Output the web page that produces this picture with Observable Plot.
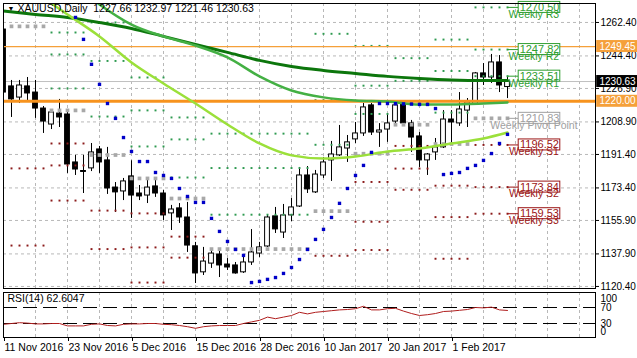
<!DOCTYPE html>
<html><head><meta charset="utf-8">
<script src="https://cdn.jsdelivr.net/npm/d3@7"></script>
<script src="https://cdn.jsdelivr.net/npm/@observablehq/plot@0.6"></script>
<style>
body{margin:0;background:#fff;}
#chart{width:637px;height:358px;font-family:"Liberation Sans",Arial,sans-serif;}
#chart svg{display:block;overflow:visible;background:#fff;}
</style></head><body><div id="chart"></div>
<script>
// ---------- data ----------
const symbolTitle = "XAUUSD,Daily\u00a0\u00a01227.66 1232.97 1221.46 1230.63";
const rsiTitle = "RSI(14) 62.6047";
const dateLabels = ["11 Nov 2016","23 Nov 2016","5 Dec 2016","15 Dec 2016","28 Dec 2016","10 Jan 2017","20 Jan 2017","1 Feb 2017"];
const dateBars = [0,8,16,24,32,40,48,56];
const priceTicks = [1262.40,1244.40,1226.90,1208.90,1191.40,1173.40,1155.90,1137.90,1120.40];
const rsiTicks = [100,70,30,0];
const rsiLevels = [70,30];

const open  = [1258.6,1228,1222,1228,1224.7,1216.1,1207.5,1213.4,1212.9,1187.1,1182.5,1183.9,1194.1,1188.2,1173.6,1171.5,1179.6,1170.4,1169.3,1174.2,1170.4,1159.7,1162.4,1157.5,1142,1128,1132.7,1137.6,1132.2,1131.7,1128,1133.3,1138.1,1141.9,1158.1,1149.4,1158.6,1163.4,1180.1,1171,1180.1,1188.2,1190.9,1194.6,1199.5,1202.7,1217.8,1203.2,1204.8,1209.1,1218.3,1208.1,1201.1,1188.2,1192.5,1195.2,1210.2,1208.1,1215,1218.3,1235,1232.8,1240.9,1227.66];
const high  = [1265,1231.2,1231.2,1232.8,1231.2,1217.2,1215,1221,1214,1190.9,1190.9,1197.3,1195.7,1195.2,1176.3,1178.5,1188,1174.7,1177.4,1177.4,1172,1164,1165,1165.6,1144.1,1141.4,1140.3,1139.2,1135.4,1133.3,1136,1151,1144.1,1158.6,1162.9,1164.5,1167.7,1184.4,1184.9,1182.8,1189.8,1198.4,1207,1201.6,1208.6,1218.8,1218.8,1208,1213.4,1218.8,1219.4,1209.7,1203.2,1191.9,1200,1215,1215,1224.7,1221.5,1235.5,1240.3,1245.2,1244.6,1232.97];
const low   = [1219,1211.3,1218.8,1220.4,1210.8,1202.7,1204.8,1205.9,1181.2,1180.1,1170.4,1182.2,1181.2,1169.9,1160.2,1166.6,1157,1166.6,1165,1168.3,1155.9,1150.5,1154.3,1138.7,1122,1126.3,1130.1,1125.2,1129,1127,1127.4,1131.7,1136,1141.4,1148.9,1146.2,1155.3,1162.9,1170.4,1170.4,1178.5,1176.9,1190.3,1187.1,1197.3,1201.1,1201.6,1195.2,1197.9,1208,1208,1192.5,1184.4,1180.1,1188.2,1194.6,1197.3,1206.5,1205.9,1217.8,1228.5,1229.6,1224.7,1221.46];
const close = [1224.7,1221,1228.5,1224.2,1216.1,1209.1,1214,1211.3,1186,1183.3,1182,1192.5,1187.1,1173.1,1171,1176.9,1169.3,1168.8,1173.6,1170.4,1158.6,1161.8,1157.5,1142.4,1127.4,1133.8,1138.1,1131.7,1130.6,1127.4,1133.3,1138.7,1141.4,1157.5,1151.1,1158.6,1162.9,1180.1,1172.6,1180.6,1187.1,1191.4,1195.2,1197.9,1202.7,1216.7,1203.2,1204.3,1208.1,1217.8,1208.1,1200.5,1188.2,1191.4,1195.2,1210.2,1208.6,1215.6,1219.4,1235,1232.8,1240.9,1228.5,1230.63];

// moving averages read every 4 bars
const maBars = [0,4,8,10,12,16,20,24,28,32,36,40,44,48,52,56,60,63];
const maSlow = [1268.6,1266.7,1265.1,null,1262.4,1259.2,1254.9,1250.6,1246.3,1242,1238.7,1236.6,1235,1233.4,1232.3,1231.5,1231.2,1231.2];
const maMid  = [null,null,null,1278.5,1272.1,1261.3,1254.9,1250,1243.6,1233.4,1225.8,1222.1,1220.4,1219.9,1218.3,1218.3,1218.8,1219.4];
const maFast = [null,1278.5,1266.7,null,1254.9,1240.9,1229.6,1218.8,1207.5,1197.3,1190.9,1189.2,1190.3,1193,1194.6,1197.3,1200,1203.2];

// parabolic SAR, bars 0..63
const sar = [null,null,null,null,null,null,null,null,null,1265.1,1253.3,1239.9,1229.1,1218.8,1210.8,1200.5,1193,1187.6,1187.6,1181.7,1180.1,1178.5,1173.1,1168.8,1165.6,1165.6,1157,1150,1144.6,1140.3,1137.1,1122.5,1123.1,1124.2,1125.2,1127.4,1130.6,1134.9,1140.3,1145.7,1151.1,1157.5,1165.1,1173.1,1180.1,1185.5,1192.5,1218.8,1218.8,1218.7,1218.6,1218.5,1218.3,1218.3,1216.1,1180.6,1181.2,1181.7,1183.9,1185.5,1188.2,1191.9,1197.3,1202.2];

// RSI(14)
const rsi = [28,30,32,31,29,29,30,30,24,24,24,28,29,25,24,28,29,29,30,30,28,27,25,22,18,22,24,25,25,25,30,34,38,46,42,46,50,58,54,58,60,62,64,65,67,73,64,64,67,68,61,55,50,52,55,60,61,63,65,70,69,71,64,62.6];

// weekly pivots
const pivStart = [1,6,11,16,21,26,39,44,49,54,59];
const pivEnd   = [5,10,15,20,25,38,43,48,53,58,63];
const pivR3 = [null,1257,1262.4,1232.8,1211.3,1202.6,1256.3,1249.8,1243.2,1253.2,1270.50];
const pivR2 = [null,1245.2,1241.7,1215.1,1199.5,1184.1,1220.6,1228.4,1231,1236.3,1247.82];
const pivR1 = [null,1226.9,1211.8,1195.7,1179,1159,1196.6,1213.2,1219.6,1213.9,1233.51];
const pivPP = [1260.3,1215.1,1191.1,1178.5,1167.7,1140.5,1160.9,1191.8,1207.4,1197,1210.83];
const pivS1 = [1183.9,1197.3,1161.2,1159.7,1147.2,null,1136.9,1176.6,1196,1174.6,1196.52];
const pivS2 = [1142.4,1185.5,1140.5,1141.4,1135.9,null,null,1155.2,1183.8,1157.7,1173.84];
const pivS3 = [null,1166.6,null,1122.5,null,null,null,1140,1172.4,1135.3,1159.53];
const pivNames = ["Weekly R3","Weekly R2","Weekly R1","Weekly Pivot Point","Weekly S1","Weekly S2","Weekly S3"];

const hLines = [1249.45, 1220.00];
const lastPrice = 1230.63;

// ---------- build ----------
const FONT = '"Liberation Sans",Arial,sans-serif';
const xDom = [0, 74];
const bars = open.map((o, i) => ({i, o, h: high[i], l: low[i], c: close[i]}));
const upBars = bars.filter(d => d.c >= d.o);
const dnBars = bars.filter(d => d.c < d.o);
const ma = (vals) => maBars.map((i, k) => ({i, v: vals[k]})).filter(d => d.v != null);
const sarPts = sar.map((v, i) => ({i, v})).filter(d => d.v != null);
const dots = (arr) => pivStart.flatMap((s, k) => arr[k] == null ? [] : d3.range(s, pivEnd[k] + 1).map(i => ({i, v: arr[k]})));
const rDots = [...dots(pivR3), ...dots(pivR2), ...dots(pivR1)];
const sDots = [...dots(pivS1), ...dots(pivS2), ...dots(pivS3)];
const ppDots = dots(pivPP);
const last = pivStart.length - 1;
const lastBar = pivEnd[last];
const cols = ["#2f9e2f","#2f9e2f","#2f9e2f","#a0a0a0","#9b1515","#9b1515","#9b1515"];
const curLevels = [pivR3, pivR2, pivR1, pivPP, pivS1, pivS2, pivS3].map((a, k) => ({v: a[last], name: pivNames[k], col: cols[k]}));
const boxes = [
  {v: hLines[0], fill: "#f5a03a", tc: "#fff"},
  {v: hLines[1], fill: "#f5a03a", tc: "#fff"},
  {v: lastPrice, fill: "#000", tc: "#fff"}
];
const vGrid = d3.range(4, 74, 4);
const gridStyle = {stroke: "#b8b8b8", strokeOpacity: 1, strokeDasharray: "3,3"};

const main = Plot.plot({
  width: 637, height: 290,
  marginLeft: 3, marginRight: 42, marginTop: 3, marginBottom: 2,
  style: {fontFamily: FONT, fontSize: "10px", color: "#000", background: "#fff"},
  x: {domain: xDom, axis: null},
  y: {domain: [1119.3, 1272.6], axis: null},
  color: {type: "identity"},
  marks: [
    Plot.gridY(priceTicks, gridStyle),
    Plot.gridX(vGrid, gridStyle),
    Plot.ruleY([lastPrice], {stroke: "#c0c0c0", strokeWidth: 1}),
    Plot.ruleX(bars, {x: "i", y1: "l", y2: "h", stroke: "#000", strokeWidth: 1, clip: true}),
    Plot.rect(upBars, {x1: d => d.i - 0.3, x2: d => d.i + 0.3, y1: "o", y2: "c", fill: "#fff", stroke: "#000", strokeWidth: 1, clip: true}),
    Plot.rect(dnBars, {x1: d => d.i - 0.3, x2: d => d.i + 0.3, y1: "o", y2: "c", fill: "#000", stroke: "#000", strokeWidth: 1, clip: true}),
    Plot.dot(rDots, {x: "i", y: "v", symbol: "square", r: 1.1, fill: "#2e9a50", clip: true}),
    Plot.dot(sDots, {x: "i", y: "v", symbol: "square", r: 1.1, fill: "#8b1a1a", clip: true}),
    Plot.dot(ppDots, {x: "i", y: "v", symbol: "square", r: 2.1, fill: "#a8a8a8", clip: true}),
    Plot.ruleY([hLines[0]], {stroke: "#f5a03a", strokeWidth: 1.2}),
    Plot.ruleY([hLines[1]], {stroke: "#f7931e", strokeWidth: 3}),
    Plot.line(ma(maSlow), {x: "i", y: "v", stroke: "#0c760c", strokeWidth: 3, curve: "monotone-x", clip: true}),
    Plot.line(ma(maMid), {x: "i", y: "v", stroke: "#44b044", strokeWidth: 2.5, curve: "monotone-x", clip: true}),
    Plot.line(ma(maFast), {x: "i", y: "v", stroke: "#9be03a", strokeWidth: 2.5, curve: "monotone-x", clip: true}),
    Plot.dot(sarPts, {x: "i", y: "v", symbol: "square", r: 1.9, fill: "#0000c8", clip: true}),
    // current week labels
    Plot.ruleY(curLevels, {y: "v", x1: lastBar, x2: lastBar + 1.4, stroke: "col", strokeWidth: 1}),
    Plot.rect(curLevels, {x1: lastBar + 1.4, x2: lastBar + 6.6, y1: "v", y2: "v", insetTop: -5.5, insetBottom: -5.5, fill: "#fff", stroke: "col", strokeWidth: 1}),
    Plot.text(curLevels, {x: lastBar + 4, y: "v", text: d => d.v.toFixed(2), fill: "col", fontSize: 11, textAnchor: "middle"}),
    Plot.text(curLevels, {x: lastBar + 3.3, y: "v", dy: 7, text: "name", fill: "col", fontSize: 10.5, textAnchor: "middle"}),
    Plot.frame({stroke: "#000", strokeWidth: 1}),
    Plot.axisY(priceTicks, {anchor: "right", tickSize: 3, tickPadding: 2, tickFormat: d => d.toFixed(2), fontSize: 10, label: null, fill: "#000", stroke: "#000"}),
    Plot.rect(boxes, {x1: xDom[1] + 0.15, x2: xDom[1] + 5.5, y1: "v", y2: "v", insetTop: -6, insetBottom: -6, fill: "fill"}),
    Plot.text(boxes, {x: xDom[1], y: "v", dx: 4, text: d => d.v.toFixed(2), fill: "tc", textAnchor: "start", fontSize: 10}),
    Plot.text([symbolTitle], {frameAnchor: "top-left", dx: 14, dy: 1, text: d => d, fill: "#000", fontSize: 10.5, lineAnchor: "top", textAnchor: "start"}),
    Plot.text(["\u25BC"], {frameAnchor: "top-left", dx: 4, dy: 3, text: d => d, fill: "#000", fontSize: 7, lineAnchor: "top", textAnchor: "start"})
  ]
});

const rsiPlot = Plot.plot({
  width: 637, height: 68,
  marginLeft: 3, marginRight: 42, marginTop: 2, marginBottom: 21,
  style: {fontFamily: FONT, fontSize: "10px", color: "#000", background: "#fff"},
  x: {domain: xDom},
  y: {domain: [-5, 107.5], axis: null},
  marks: [
    Plot.gridX(vGrid, gridStyle),
    Plot.ruleY(rsiLevels, {stroke: "#000", strokeWidth: 1, strokeDasharray: "14,6"}),
    Plot.line(rsi, {x: (d, i) => i, y: d => d, stroke: "#b01e1e", strokeWidth: 1}),
    Plot.frame({stroke: "#000", strokeWidth: 1}),
    Plot.text(rsiTicks.slice(1, 3), {x: xDom[1], y: d => d, dx: 5, text: d => String(d), textAnchor: "start", fill: "#000", fontSize: 10}),
    Plot.text([rsiTicks[0]], {x: xDom[1], y: d => d, dx: 5, dy: 3, text: d => String(d), textAnchor: "start", fill: "#000", fontSize: 10}),
    Plot.text([rsiTicks[3]], {x: xDom[1], y: d => d, dx: 5, dy: -4, text: d => String(d), textAnchor: "start", fill: "#000", fontSize: 10}),
    Plot.text([rsiTitle], {frameAnchor: "top-left", dx: 4, dy: 2, text: d => d, fill: "#000", fontSize: 10.5, lineAnchor: "top", textAnchor: "start"}),
    Plot.axisX(dateBars, {anchor: "bottom", tickSize: 4, tickPadding: 2, dx: 1, textAnchor: "start", tickFormat: d => dateLabels[dateBars.indexOf(d)], label: null, fontSize: 10.5, fill: "#000", stroke: "#000"})
  ]
});

const root = document.getElementById("chart");
root.appendChild(main);
root.appendChild(rsiPlot);
</script></body></html>
